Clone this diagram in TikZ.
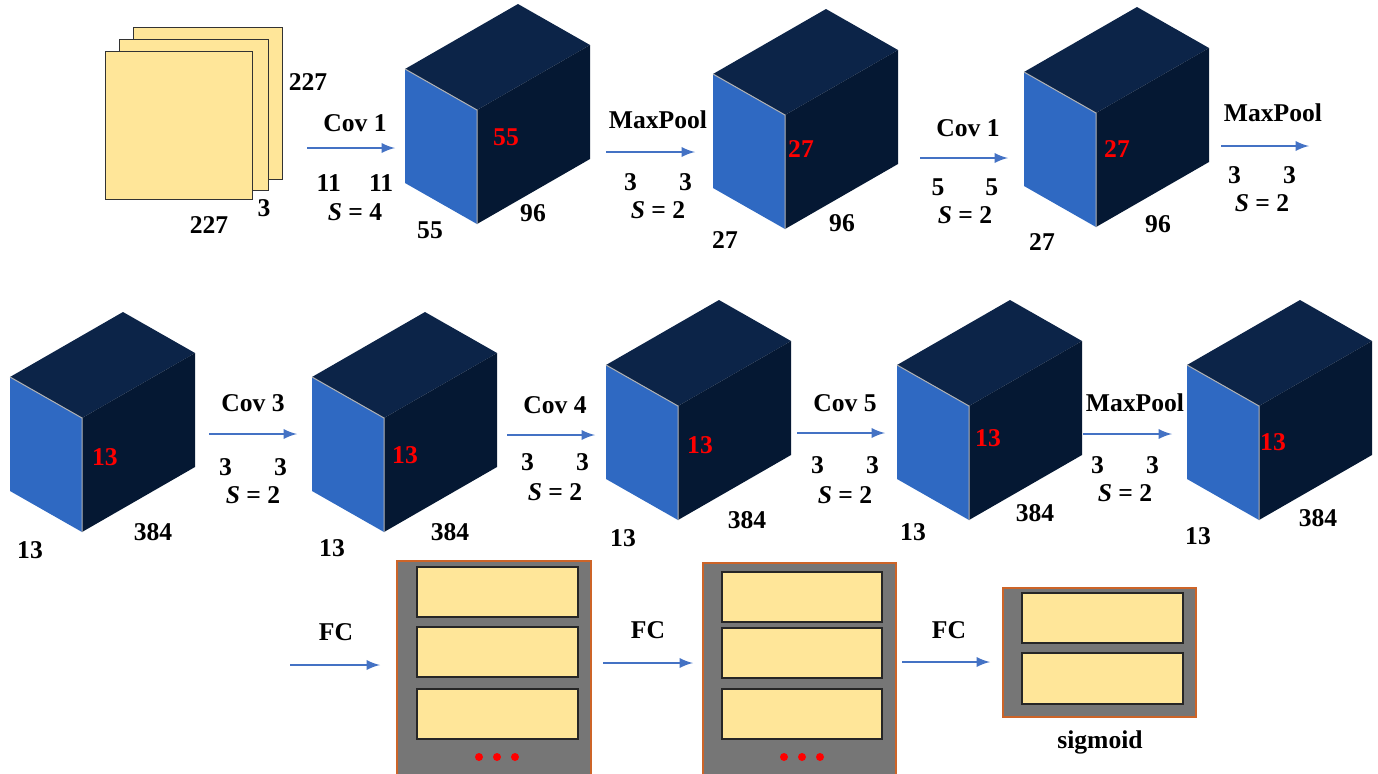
\documentclass[tikz,border=0pt]{standalone}
\usepackage{fontspec}
\setmainfont{Liberation Serif}
\usetikzlibrary{arrows}
\definecolor{sheet}{RGB}{255,230,153}
\definecolor{faceblue}{RGB}{47,105,194}
\definecolor{topblue}{RGB}{12,36,72}
\definecolor{sideblue}{RGB}{5,24,51}
\definecolor{panel}{RGB}{118,118,118}
\definecolor{rim}{RGB}{205,100,40}
\definecolor{flow}{RGB}{68,114,196}

\begin{document}
\begin{tikzpicture}[x=0.5pt,y=-0.5pt]
   \tikzset{Lbl/.style={font=\fontsize{12.8}{15}\selectfont\bfseries}}
   \tikzset{Dim/.style={Lbl,text=red}}
   \tikzset{Flow/.style={-latex,flow,line width=1.3pt}}
   \tikzset{Sheet/.style={fill=sheet,draw=black!80,line width=0.5pt}}
   \tikzset{Unit/.style={fill=sheet,draw=black!85,line width=0.8pt}}
   \tikzset{Panel/.style={fill=panel,draw=rim,line width=0.55pt}}
   \tikzset{Cube/.pic={
      \fill[topblue] (0,0) -- (72,41) -- (185,-24) -- (113,-65) -- cycle;
      \fill[sideblue] (72,41) -- (185,-24) -- (185,90) -- (72,155) -- cycle;
      \fill[faceblue] (0,0) -- (72,41) -- (72,155) -- (0,114) -- cycle;
      \draw[gray!60,line width=0.5pt] (0,0) -- (72,41) -- (72,155);
   }}
   \useasboundingbox (0,0) rectangle (1378,773);
   \draw[Sheet] (133,27) rectangle (282,179);
   \draw[Sheet] (119,39) rectangle (268,190);
   \draw[Sheet] (105,51) rectangle (252,199);
   \node[Lbl] (inH) at (308,82) {227};
   \node[Lbl] (inC) at (264,208) {3};
   \node[Lbl] (inW) at (209,225) {227};
   \pic at (405,69) {Cube};
   \pic at (713,74) {Cube};
   \pic at (1024,72) {Cube};
   \pic at (10,377) {Cube};
   \pic at (312,377) {Cube};
   \pic at (606,365) {Cube};
   \pic at (897,365) {Cube};
   \pic at (1187,365) {Cube};
   \node[Dim] (c1d) at (506,137) {55};
   \node[Lbl] (c1c) at (533,213) {96};
   \node[Lbl] (c1w) at (430,230) {55};
   \node[Dim] (c2d) at (801,149) {27};
   \node[Lbl] (c2c) at (842,223) {96};
   \node[Lbl] (c2w) at (725,240) {27};
   \node[Dim] (c3d) at (1117,149) {27};
   \node[Lbl] (c3c) at (1158,224) {96};
   \node[Lbl] (c3w) at (1042,242) {27};
   \node[Dim] (c4d) at (105,457) {13};
   \node[Lbl] (c4c) at (153,532) {384};
   \node[Lbl] (c4w) at (30,550) {13};
   \node[Dim] (c5d) at (405,455) {13};
   \node[Lbl] (c5c) at (450,532) {384};
   \node[Lbl] (c5w) at (332,548) {13};
   \node[Dim] (c6d) at (700,445) {13};
   \node[Lbl] (c6c) at (747,520) {384};
   \node[Lbl] (c6w) at (623,538) {13};
   \node[Dim] (c7d) at (988,438) {13};
   \node[Lbl] (c7c) at (1035,513) {384};
   \node[Lbl] (c7w) at (913,532) {13};
   \node[Dim] (c8d) at (1273,442) {13};
   \node[Lbl] (c8c) at (1318,518) {384};
   \node[Lbl] (c8w) at (1198,536) {13};
   \coordinate (s1) at (307,148); \coordinate (e1) at (395,148);
   \coordinate (s2) at (606,152); \coordinate (e2) at (695,152);
   \coordinate (s3) at (920,158); \coordinate (e3) at (1008,158);
   \coordinate (s4) at (1221,146); \coordinate (e4) at (1309,146);
   \coordinate (s5) at (209,434); \coordinate (e5) at (297,434);
   \coordinate (s6) at (507,435); \coordinate (e6) at (595,435);
   \coordinate (s7) at (797,433); \coordinate (e7) at (885,433);
   \coordinate (s8) at (1083,434); \coordinate (e8) at (1172,434);
   \coordinate (s9) at (290,665); \coordinate (e9) at (380,665);
   \coordinate (s10) at (603,663); \coordinate (e10) at (693,663);
   \coordinate (s11) at (902,662); \coordinate (e11) at (990,662);
   \draw[Flow] (s1) -- (e1);
   \draw[Flow] (s2) -- (e2);
   \draw[Flow] (s3) -- (e3);
   \draw[Flow] (s4) -- (e4);
   \draw[Flow] (s5) -- (e5);
   \draw[Flow] (s6) -- (e6);
   \draw[Flow] (s7) -- (e7);
   \draw[Flow] (s8) -- (e8);
   \draw[Flow] (s9) -- (e9);
   \draw[Flow] (s10) -- (e10);
   \draw[Flow] (s11) -- (e11);
   \node[Lbl] (op1) at (355,123) {Cov 1};
   \node[Lbl] (k1) at (355,183) {11\hspace{1.1em}11};
   \node[Lbl] (st1) at (355,212) {{\itshape S} = 4};
   \node[Lbl] (op2) at (658,120) {MaxPool};
   \node[Lbl] (k2) at (658,182) {3\hspace{1.65em}3};
   \node[Lbl] (st2) at (658,210) {{\itshape S} = 2};
   \node[Lbl] (op3) at (968,128) {Cov 1};
   \node[Lbl] (k3) at (965,187) {5\hspace{1.6em}5};
   \node[Lbl] (st3) at (965,215) {{\itshape S} = 2};
   \node[Lbl] (op4) at (1273,113) {MaxPool};
   \node[Lbl] (k4) at (1262,175) {3\hspace{1.65em}3};
   \node[Lbl] (st4) at (1262,203) {{\itshape S} = 2};
   \node[Lbl] (op5) at (253,403) {Cov 3};
   \node[Lbl] (k5) at (253,467) {3\hspace{1.65em}3};
   \node[Lbl] (st5) at (253,495) {{\itshape S} = 2};
   \node[Lbl] (op6) at (555,405) {Cov 4};
   \node[Lbl] (k6) at (555,462) {3\hspace{1.65em}3};
   \node[Lbl] (st6) at (555,492) {{\itshape S} = 2};
   \node[Lbl] (op7) at (845,403) {Cov 5};
   \node[Lbl] (k7) at (845,465) {3\hspace{1.65em}3};
   \node[Lbl] (st7) at (845,495) {{\itshape S} = 2};
   \node[Lbl] (op8) at (1135,403) {MaxPool};
   \node[Lbl] (k8) at (1125,465) {3\hspace{1.65em}3};
   \node[Lbl] (st8) at (1125,493) {{\itshape S} = 2};
   \draw[Panel] (397,561) rectangle (591,776);
   \draw[Unit] (417,567) rectangle (578,617);
   \draw[Unit] (417,627) rectangle (578,677);
   \draw[Unit] (417,689) rectangle (578,739);
   \fill[red] (479,757) circle (2pt) (497,757) circle (2pt) (515,757) circle (2pt);
   \draw[Panel] (703,563) rectangle (896,776);
   \draw[Unit] (722,572) rectangle (882,622);
   \draw[Unit] (722,628) rectangle (882,678);
   \draw[Unit] (722,689) rectangle (882,739);
   \fill[red] (784,757) circle (2pt) (802,757) circle (2pt) (820,757) circle (2pt);
   \draw[Panel] (1003,588) rectangle (1196,717);
   \draw[Unit] (1022,593) rectangle (1183,643);
   \draw[Unit] (1022,653) rectangle (1183,704);
   \node[Lbl] (fc1) at (336,632) {FC};
   \node[Lbl] (fc2) at (648,630) {FC};
   \node[Lbl] (fc3) at (949,630) {FC};
   \node[Lbl] (sig) at (1100,742) {sigmoid};
\end{tikzpicture}
\end{document}
